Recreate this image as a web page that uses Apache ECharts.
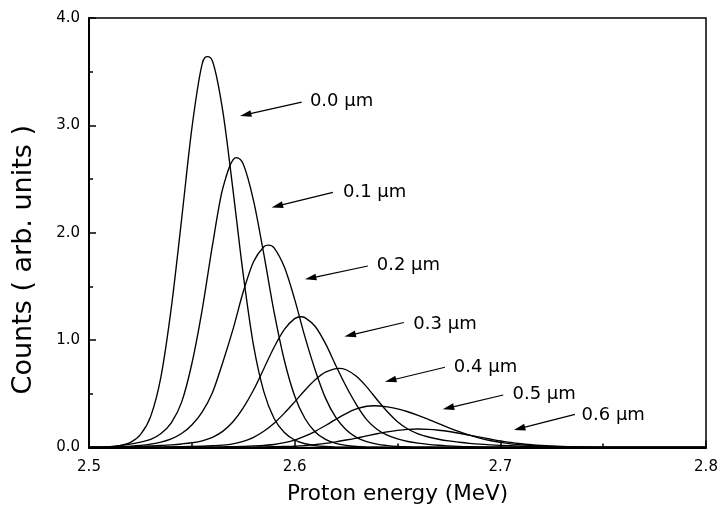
<!DOCTYPE html>
<html>
<head>
<meta charset="utf-8">
<script src="https://cdn.jsdelivr.net/npm/echarts@6/dist/echarts.min.js"></script>
<style>
html,body{margin:0;padding:0;background:#fff;}
#chart{width:718px;height:506px;}
</style>
</head>
<body>
<div id="chart"></div>
<script>
// Proton energy grid (MeV)
const energy = [
 2.500,2.505,2.510,2.515,2.520,2.525,2.530,2.535,2.540,2.545,
 2.550,2.555,2.560,2.565,2.570,2.575,2.580,2.585,2.590,2.595,
 2.600,2.605,2.610,2.615,2.620,2.625,2.630,2.635,2.640,2.645,
 2.650,2.655,2.660,2.665,2.670,2.675,2.680,2.685,2.690,2.695,
 2.700,2.705,2.710,2.715,2.720,2.725,2.730,2.735,2.740,2.745,
 2.750,2.755,2.760,2.765,2.770,2.775,2.780,2.785,2.790,2.795,
 2.800
];

const depthLabels = ['0.0 µm','0.1 µm','0.2 µm','0.3 µm','0.4 µm','0.5 µm','0.6 µm'];

// Counts (arb. units) per depth at the energy grid
const counts00 = [
 0,0.002,0.006,0.018,0.045,0.12,0.29,0.66,1.30,2.12,
 2.97,3.57,3.60,3.14,2.40,1.61,0.95,0.52,0.27,0.14,
 0.07,0.035,0.018,0.009,0.004,0.002,0.001,0,0,0,
 0,0,0,0,0,0,0,0,0,0,
 0,0,0,0,0,0,0,0,0,0,
 0,0,0,0,0,0,0,0,0,0,
 0
];
const counts01 = [
 0,0.002,0.008,0.018,0.032,0.05,0.075,0.13,0.23,0.42,
 0.78,1.28,1.88,2.41,2.68,2.64,2.30,1.80,1.26,0.81,
 0.48,0.27,0.145,0.075,0.038,0.019,0.009,0.004,0.002,0.001,
 0,0,0,0,0,0,0,0,0,0,
 0,0,0,0,0,0,0,0,0,0,
 0,0,0,0,0,0,0,0,0,0,
 0
];
const counts02 = [
 0,0,0.003,0.008,0.013,0.02,0.032,0.05,0.08,0.13,
 0.21,0.33,0.51,0.79,1.10,1.45,1.73,1.87,1.86,1.68,
 1.38,1.03,0.72,0.46,0.28,0.165,0.095,0.055,0.031,0.018,
 0.010,0.006,0.003,0.002,0.001,0,0,0,0,0,
 0,0,0,0,0,0,0,0,0,0,
 0,0,0,0,0,0,0,0,0,0,
 0
];
const counts03 = [
 0,0,0,0.003,0.006,0.010,0.014,0.019,0.025,0.033,
 0.044,0.062,0.095,0.15,0.24,0.37,0.535,0.734,0.934,1.10,
 1.20,1.21,1.127,0.967,0.764,0.57,0.40,0.26,0.17,0.115,
 0.08,0.056,0.040,0.029,0.021,0.015,0.010,0.007,0.005,0.003,
 0.002,0.001,0,0,0,0,0,0,0,0,
 0,0,0,0,0,0,0,0,0,0,
 0
];
const counts04 = [
 0,0,0,0,0.001,0.002,0.003,0.004,0.005,0.007,
 0.009,0.012,0.016,0.022,0.034,0.057,0.095,0.151,0.226,0.320,
 0.425,0.533,0.630,0.701,0.735,0.724,0.663,0.565,0.447,0.335,
 0.240,0.172,0.128,0.098,0.077,0.061,0.049,0.039,0.031,0.025,
 0.020,0.016,0.012,0.009,0.007,0.005,0.003,0.002,0.001,0,
 0,0,0,0,0,0,0,0,0,0,
 0
];
const counts05 = [
 0,0,0,0,0,0,0.001,0.001,0.002,0.002,
 0.003,0.003,0.004,0.006,0.008,0.011,0.015,0.020,0.028,0.045,
 0.069,0.105,0.151,0.205,0.262,0.316,0.359,0.384,0.388,0.379,
 0.360,0.333,0.299,0.261,0.222,0.183,0.147,0.115,0.088,0.065,
 0.048,0.034,0.024,0.017,0.012,0.008,0.005,0.003,0.002,0.001,
 0,0,0,0,0,0,0,0,0,0,
 0
];
const counts06 = [
 0,0,0,0,0,0,0,0,0,0,
 0,0,0,0,0.002,0.003,0.004,0.005,0.007,0.009,
 0.012,0.018,0.027,0.038,0.053,0.070,0.088,0.108,0.128,0.146,
 0.160,0.169,0.172,0.169,0.161,0.149,0.133,0.115,0.097,0.079,
 0.062,0.047,0.035,0.026,0.019,0.014,0.010,0.007,0.004,0.002,
 0.001,0,0,0,0,0,0,0,0,0,
 0
];

// Peak position and height of each spectrum
const peakEnergy = [2.5577, 2.5715, 2.5872, 2.6031, 2.6215, 2.6385, 2.6600];
const peakCounts = [3.64, 2.70, 1.885, 1.218, 0.737, 0.389, 0.172];

// Annotation anchors in data coordinates [energy, counts]
const labelPos  = [[2.6074,3.220],[2.6235,2.374],[2.6399,1.696],[2.6577,1.145],[2.6774,0.745],[2.7059,0.496],[2.7395,0.295]];
const arrowFrom = [[2.6034,3.217],[2.6186,2.376],[2.6356,1.690],[2.6531,1.164],[2.6731,0.747],[2.7014,0.489],[2.7363,0.309]];
const arrowTo   = [[2.5734,3.087],[2.5888,2.236],[2.6050,1.566],[2.6242,1.034],[2.6439,0.613],[2.6720,0.356],[2.7066,0.163]];

const seriesValues = [counts00,counts01,counts02,counts03,counts04,counts05,counts06];

function buildData(vals, i){
  const pts = [];
  energy.forEach((x,j)=>{ if (Math.abs(x-peakEnergy[i])>0.0016) pts.push([x, vals[j]]); });
  pts.push([peakEnergy[i], peakCounts[i]]);
  pts.sort((a,b)=>a[0]-b[0]);
  return pts;
}

// Cubic Hermite path through pixel points: finite-difference tangents,
// limited (Fritsch-Carlson) so the curve never overshoots its points
function splinePath(P){
  const n = P.length;
  if (n < 2) return '';
  const s = [];
  for (let k=0;k<n-1;k++){ const h=P[k+1][0]-P[k][0]; s.push(h!==0?(P[k+1][1]-P[k][1])/h:0); }
  const m = new Array(n).fill(0);
  for (let k=1;k<n-1;k++){
    if (s[k-1]===0 || s[k]===0 || (s[k-1]>0)!==(s[k]>0)) { m[k]=0; continue; }
    const fd=(P[k+1][1]-P[k-1][1])/(P[k+1][0]-P[k-1][0]);
    const lim=3*Math.min(Math.abs(s[k-1]),Math.abs(s[k]));
    m[k]=Math.sign(fd)*Math.min(Math.abs(fd),lim);
  }
  m[0]=s[0]; m[n-1]=s[n-2];
  const f=v=>v.toFixed(2);
  let d='M'+f(P[0][0])+' '+f(P[0][1]);
  for (let k=0;k<n-1;k++){
    const h=(P[k+1][0]-P[k][0])/3;
    d+=' C'+f(P[k][0]+h)+' '+f(P[k][1]+m[k]*h)+' '+
       f(P[k+1][0]-h)+' '+f(P[k+1][1]-m[k+1]*h)+' '+
       f(P[k+1][0])+' '+f(P[k+1][1]);
  }
  return d;
}

const FONT = 'DejaVu Sans';
const chart = echarts.init(document.getElementById('chart'), null, {renderer:'canvas'});

chart.setOption({
  animation:false,
  backgroundColor:'#ffffff',
  grid:{left:89,right:12,top:18,bottom:58.5,show:true,borderColor:'#000',borderWidth:1.5,backgroundColor:'transparent',outerBoundsMode:'none',containLabel:false},
  xAxis:{
    type:'value',min:2.5,max:2.8,interval:0.1,
    name:'Proton energy (MeV)',nameLocation:'middle',nameGap:36,
    nameTextStyle:{fontFamily:FONT,fontSize:21.5,color:'#000'},
    axisLine:{show:true,lineStyle:{color:'#000',width:2}},
    axisTick:{show:true,inside:true,length:7,lineStyle:{color:'#000',width:1.5}},
    minorTick:{show:true,splitNumber:2,length:4,lineStyle:{color:'#000',width:1.5}},
    axisLabel:{fontFamily:FONT,fontSize:15,color:'#000',margin:12,formatter:v=>v.toFixed(1)},
    splitLine:{show:false}
  },
  yAxis:{
    type:'value',min:0,max:4,interval:1,
    name:'Counts ( arb. units )',nameLocation:'middle',nameGap:52,
    nameTextStyle:{fontFamily:FONT,fontSize:27,color:'#000',padding:[0,54,0,0]},
    axisLine:{show:true,lineStyle:{color:'#000',width:2}},
    axisTick:{show:true,inside:true,length:7,lineStyle:{color:'#000',width:1.5}},
    minorTick:{show:true,splitNumber:2,length:4,lineStyle:{color:'#000',width:1.5}},
    axisLabel:{fontFamily:FONT,fontSize:15,color:'#000',margin:9,formatter:v=>v.toFixed(1)},
    splitLine:{show:false}
  },
  series: seriesValues.map((vals,i)=>{
    const pts = buildData(vals,i);
    return {
      type:'custom',
      name:depthLabels[i],
      coordinateSystem:'cartesian2d',
      encode:{x:0,y:1},
      data:pts,
      renderItem:(params, api)=>{
        if (params.dataIndex !== 0) return null;
        const P = pts.map(p=>api.coord(p));
        return {type:'path',silent:true,shape:{pathData:splinePath(P)},style:{stroke:'#000',lineWidth:1.35,fill:null}};
      }
    };
  })
});

const g = [];
for (let i=0;i<depthLabels.length;i++){
  const a = chart.convertToPixel({gridIndex:0}, arrowFrom[i]);
  const b = chart.convertToPixel({gridIndex:0}, arrowTo[i]);
  const dx=b[0]-a[0], dy=b[1]-a[1], L=Math.hypot(dx,dy), ux=dx/L, uy=dy/L;
  const hl=11.5, hw=3.4;
  const bx=b[0]-ux*hl, by=b[1]-uy*hl;
  g.push({type:'line',silent:true,shape:{x1:a[0],y1:a[1],x2:bx+ux*2,y2:by+uy*2},style:{stroke:'#000',lineWidth:1.2}});
  g.push({type:'polygon',silent:true,shape:{points:[[b[0],b[1]],[bx-uy*hw,by+ux*hw],[bx+uy*hw,by-ux*hw]]},style:{fill:'#000'}});
  const t = chart.convertToPixel({gridIndex:0}, labelPos[i]);
  g.push({type:'text',silent:true,x:t[0],y:t[1],style:{text:depthLabels[i],fontFamily:FONT,fontSize:18,fill:'#000',align:'left',verticalAlign:'middle'}});
}
chart.setOption({graphic:g});
</script>
</body>
</html>
